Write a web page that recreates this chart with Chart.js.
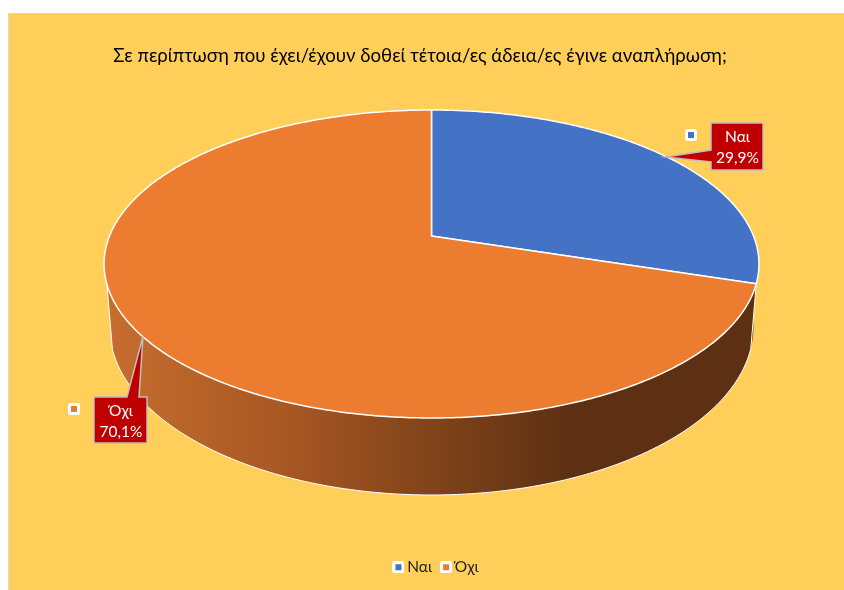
<!DOCTYPE html>
<html><head><meta charset="utf-8">
<style>html,body{margin:0;padding:0;background:#fff}canvas{display:block}</style>
<script src="https://cdn.jsdelivr.net/npm/chart.js@4"></script>
</head><body>
<div style="width:844px;height:590px"><canvas id="c" width="844" height="590"></canvas></div>
<script>
const categories = ['Ναι', 'Όχι'];
const values = [29.9, 70.1];
const colors = ['#4472C4', '#EC7C30'];
const titleText = 'Σε περίπτωση που έχει/έχουν δοθεί τέτοια/ες άδεια/ες έγινε αναπλήρωση;';
const FONT = 'Lato, "Open Sans", sans-serif';

const frame = {x: 8.5, y: 13.5, w: 840, h: 580, bg: '#FFCF5A', line: '#D9D9D9'};
// perspective disc: homography of the unit circle
const topDisc = {cx: 431.5, a: 106, b: 236, p: -0.1818, c: 322};
const lowDisc = {cx: 431.5, a: 108.5, b: 296.5, p: -0.1818, c: 316.6};
const wallEnd = 4.4;
function proj(d, th) {
  const u = Math.sin(th), v = -Math.cos(th), w = 1 + d.p * v;
  return [d.cx + d.c * u / w, (d.a * v + d.b) / w];
}
function markerImage(color, size, inner) {
  const m = document.createElement('canvas');
  m.width = m.height = size;
  const g = m.getContext('2d');
  g.fillStyle = '#fff';
  g.beginPath(); g.roundRect(0, 0, size, size, 2.5); g.fill();
  g.fillStyle = color;
  const o = (size - inner) / 2;
  g.fillRect(o, o, inner, inner);
  return m;
}
const callouts = [
  {x: 711, y: 123, w: 52, h: 47, tip: [665, 157], base: [[711,150],[711,162]], key: [691, 135]},
  {x: 94, y: 397, w: 53, h: 46, tip: [143, 336], base: [[127,397],[139,397]], key: [74, 409]}
];

const backdrop = {
  id: 'backdrop',
  afterLayout(chart) {
    chart.legend.left += 16; chart.legend.right += 16;
    chart.titleBlock.left -= 2; chart.titleBlock.right -= 2;
  },
  beforeDraw(chart) {
    const g = chart.ctx;
    g.save();
    g.fillStyle = '#fff'; g.fillRect(0, 0, chart.width, chart.height);
    g.fillStyle = frame.bg; g.strokeStyle = frame.line; g.lineWidth = 1;
    g.fillRect(frame.x, frame.y, frame.w, frame.h);
    g.strokeRect(frame.x, frame.y, frame.w, frame.h);
    g.restore();
  }
};
const perspectivePie = {
  id: 'perspectivePie',
  beforeDatasetDraw(chart) {
    const g = chart.ctx;
    const arcs = chart.getDatasetMeta(0).data;
    const off = Math.PI / 2;
    const grad = g.createLinearGradient(104, 0, 570, 0);
    grad.addColorStop(0, '#C66E2E');
    grad.addColorStop(0.38, '#A85823');
    grad.addColorStop(0.74, '#7C4119');
    grad.addColorStop(1, '#5E3013');
    g.save();
    g.lineJoin = 'round';
    // side wall, only the part in front of the disc
    arcs.forEach(a => {
      const s = a.startAngle + off, e = Math.min(a.endAngle + off, wallEnd);
      const n = Math.ceil((e - s) / 0.01);
      g.beginPath();
      for (let i = 0; i <= n; i++) {
        const p = proj(topDisc, s + (e - s) * i / n);
        if (i) g.lineTo(p[0], p[1]); else g.moveTo(p[0], p[1]);
      }
      for (let i = n; i >= 0; i--) {
        const q = proj(lowDisc, s + (e - s) * i / n);
        g.lineTo(q[0], q[1]);
      }
      g.closePath();
      g.fillStyle = grad;
      g.fill();
    });
    // outer outline of the wall
    const startT = arcs[1].startAngle + off;
    const s0 = proj(topDisc, startT), s1 = proj(topDisc, wallEnd);
    g.strokeStyle = '#FFFFFF'; g.lineWidth = 1;
    g.beginPath();
    g.moveTo(s0[0], s0[1]);
    for (let i = 0; i <= 200; i++) {
      const q = proj(lowDisc, startT + (wallEnd - startT) * i / 200);
      g.lineTo(q[0], q[1]);
    }
    g.lineTo(s1[0], s1[1]);
    g.stroke();
    // top surface
    arcs.forEach((a, idx) => {
      const s = a.startAngle + off, e = a.endAngle + off;
      const n = Math.ceil((e - s) / 0.01);
      g.beginPath();
      g.moveTo(topDisc.cx, topDisc.b);
      for (let i = 0; i <= n; i++) {
        const p = proj(topDisc, s + (e - s) * i / n);
        g.lineTo(p[0], p[1]);
      }
      g.closePath();
      g.fillStyle = colors[idx];
      g.strokeStyle = '#fff'; g.lineWidth = 1.5;
      g.fill(); g.stroke();
    });
    g.restore();
    return false;
  },
  afterDatasetsDraw(chart) {
    const g = chart.ctx;
    g.save();
    callouts.forEach((k, i) => {
      g.beginPath();
      if (i === 0) {
        g.moveTo(k.x, k.y); g.lineTo(k.x + k.w, k.y); g.lineTo(k.x + k.w, k.y + k.h); g.lineTo(k.x, k.y + k.h);
        g.lineTo(k.base[1][0], k.base[1][1]); g.lineTo(k.tip[0], k.tip[1]); g.lineTo(k.base[0][0], k.base[0][1]);
      } else {
        g.moveTo(k.x, k.y); g.lineTo(k.base[0][0], k.y); g.lineTo(k.tip[0], k.tip[1]); g.lineTo(k.base[1][0], k.y);
        g.lineTo(k.x + k.w, k.y); g.lineTo(k.x + k.w, k.y + k.h); g.lineTo(k.x, k.y + k.h);
      }
      g.closePath();
      g.fillStyle = '#C00000'; g.strokeStyle = '#BFBFBF'; g.lineWidth = 1.5;
      g.fill(); g.stroke();
      g.fillStyle = '#FFFFFF'; g.font = '15.5px ' + FONT; g.textAlign = 'center'; g.textBaseline = 'middle';
      g.fillText(categories[i], k.x + k.w / 2 + 0.5, k.y + 14);
      g.fillText(values[i].toFixed(1).replace('.', ',') + '%', k.x + k.w / 2 + 0.5, k.y + 34.5);
      g.drawImage(markerImage(colors[i], 12, 6), k.key[0] - 6, k.key[1] - 6);
    });
    g.restore();
  }
};

new Chart(document.getElementById('c'), {
  type: 'pie',
  data: {labels: categories, datasets: [{data: values, backgroundColor: colors, borderColor: '#fff'}]},
  plugins: [backdrop, perspectivePie],
  options: {
    responsive: false,
    animation: false,
    layout: {padding: {top: 30, bottom: 5, left: 10, right: 10}},
    plugins: {
      tooltip: {enabled: false},
      title: {display: true, text: titleText, color: '#000', font: {family: FONT, size: 18.6, weight: 'normal'}, padding: {top: 15, bottom: 0}},
      legend: {
        position: 'bottom',
        labels: {
          usePointStyle: true, pointStyleWidth: 2, boxHeight: 2, padding: 13, color: '#1f1f1f',
          font: {family: FONT, size: 15.5},
          generateLabels: chart => categories.map((t, i) => ({text: t, pointStyle: markerImage(colors[i], 12, 6), hidden: false, index: i, fontColor: '#1f1f1f', lineWidth: 0, strokeStyle: 'transparent'}))
        }
      }
    }
  }
});
</script>
</body></html>
